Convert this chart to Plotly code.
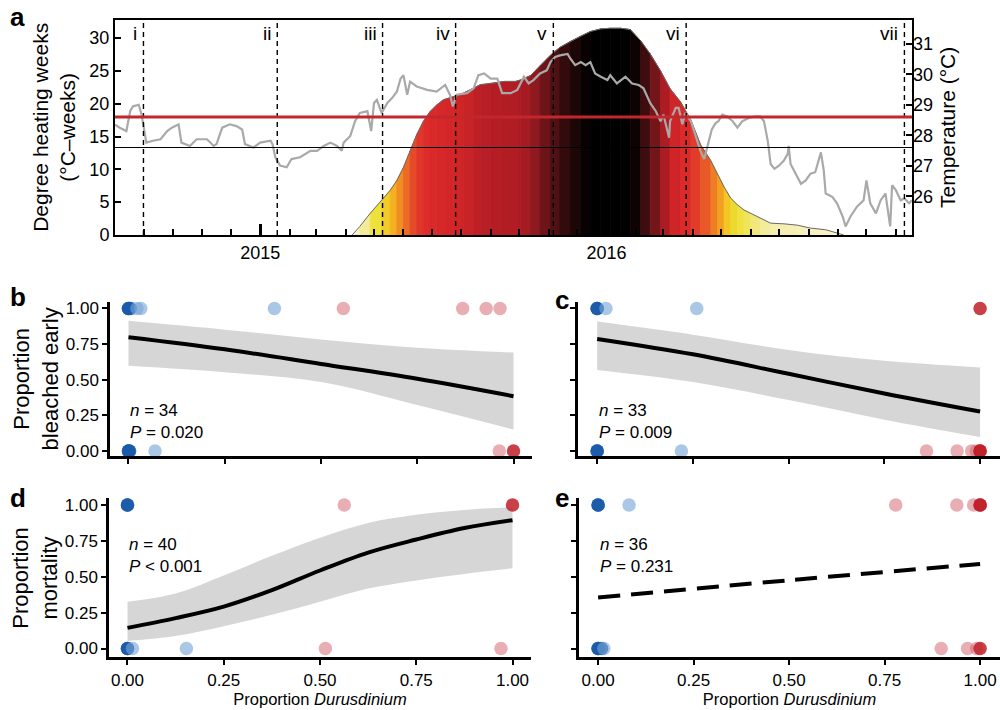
import pandas as pd
import plotly.graph_objects as go

FONT = "Liberation Sans, Arial, Helvetica, sans-serif"
BASE = pd.Timestamp("2015-01-01")

# ---------------- Panel a data (days since 2015-01-01) ----------------
temp_day = [-153, -148, -141, -137, -134, -128, -125, -121, -120, -113, -105, -98, -93, -86, -83,
            -74, -67, -56, -49, -46, -40, -32, -25, -19, -16, -7, 0, 11, 13, 16, 21, 28, 33, 42,
            53, 60, 67, 74, 81, 86, 88, 95, 100, 105, 113, 117, 120, 123, 128, 134, 139, 144, 148,
            151, 155, 158, 165, 176, 186, 195, 200, 203, 207, 218, 225, 230, 236, 243, 250, 255,
            264, 271, 278, 283, 288, 295, 302, 306, 311, 316, 324, 327, 332, 338, 343, 348, 353,
            359, 366, 369, 376, 385, 392, 399, 404, 411, 417, 422, 425, 431, 432, 438, 441, 445,
            448, 454, 459, 464, 468, 473, 476, 480, 483, 487, 492, 498, 503, 508, 515, 522, 527,
            531, 535, 538, 542, 547, 552, 556, 557, 559, 564, 570, 575, 580, 585, 591, 594, 596,
            603, 608, 614, 617, 622, 629, 636, 639, 643, 649, 654, 659, 664, 666, 670, 675, 679,
            684, 687]
temp_val = [28.35, 28.25, 28.14, 28.79, 28.95, 29.00, 28.68, 27.87, 27.76, 27.82, 27.87, 28.14,
            28.25, 28.36, 27.76, 27.65, 27.87, 27.87, 27.65, 27.71, 28.25, 28.36, 28.30, 28.19,
            27.71, 27.60, 27.76, 27.82, 27.71, 27.28, 27.01, 26.95, 27.22, 27.28, 27.49, 27.49,
            27.65, 27.76, 27.65, 27.49, 27.76, 27.98, 28.46, 28.73, 28.79, 28.14, 29.06, 29.16,
            28.73, 29.06, 29.22, 29.43, 29.86, 29.97, 29.33, 29.76, 29.60, 29.49, 29.43, 29.65,
            29.33, 28.95, 29.33, 29.38, 29.54, 29.97, 30.03, 29.86, 29.86, 29.38, 29.38, 29.49,
            29.92, 29.70, 29.81, 30.03, 30.13, 30.40, 30.57, 30.62, 30.67, 30.51, 30.30, 30.40,
            30.30, 30.40, 30.03, 29.92, 29.81, 29.97, 29.70, 29.92, 29.70, 29.65, 29.54, 29.06,
            28.79, 28.46, 28.68, 27.92, 28.46, 28.90, 28.90, 28.36, 28.73, 28.46, 27.98, 27.49,
            27.22, 27.81, 28.19, 28.40, 28.46, 28.68, 28.62, 28.46, 28.25, 28.46, 28.57, 28.62,
            28.62, 28.46, 27.81, 27.06, 26.90, 27.01, 27.17, 27.39, 27.65, 27.06, 26.74, 26.41,
            26.52, 26.74, 26.79, 27.44, 26.85, 26.09, 25.98, 25.77, 25.33, 25.01, 25.33, 25.66,
            25.87, 26.52, 25.77, 25.44, 25.87, 26.09, 25.01, 26.36, 26.20, 25.87, 25.93, 25.77,
            25.87]

dhw_day = [97, 105, 116, 128, 137, 144, 151, 158, 165, 172, 179, 186, 193, 204, 214, 225, 232,
           243, 257, 269, 274, 285, 295, 306, 316, 327, 338, 348, 359, 369, 380, 390, 401, 411,
           422, 432, 443, 454, 464, 475, 482, 489, 496, 503, 510, 517, 527, 538, 552, 566, 580,
           596, 608, 615]
dhw_val = [0.0, 1.3, 3.3, 5.3, 6.8, 8.3, 10.3, 12.8, 15.3, 17.3, 18.8, 19.8, 20.6, 21.1, 21.6,
           22.4, 22.9, 23.1, 23.4, 23.4, 23.6, 24.3, 25.8, 27.4, 28.6, 29.5, 30.3, 31.0, 31.4,
           31.5, 31.5, 31.3, 29.6, 27.6, 25.0, 22.3, 20.3, 17.5, 13.8, 11.3, 9.3, 7.3, 5.6, 4.6,
           3.8, 3.3, 2.6, 1.8, 1.7, 1.5, 1.05, 0.8, 0.3, 0.0]

sample_day = [-123, 18, 129, 206, 309, 449, 679]
sample_label = ["i", "ii", "iii", "iv", "v", "vi", "vii"]
mmm_temp = 27.6
bleach_temp = 28.6
x_start_day, x_end_day = -153, 687
year_ticks = ["2015-01-01", "2016-01-01"]
year_labels = ["2015", "2016"]

# ---------------- Panels b-e data ----------------
dur_ticks = [0, 0.25, 0.5, 0.75, 1.0]

b_x = [0, 0, 0.005, 0.022, 0.032, 0.379, 0.558, 0.868, 0.929, 0.965, 0, 0, 0.003, 0.069, 0.963, 1.0]
b_y = [1, 1, 1, 1, 1, 1, 1, 1, 1, 1, 0, 0, 0, 0, 0, 0]
b_g = ["C", "C", "C", "Cm", "Cm", "Cm", "Dm", "Dm", "Dm", "Dm", "C", "C", "C", "Cm", "Dm", "D"]
b_fit_x = [0, 0.25, 0.5, 0.75, 1.0]
b_fit = [0.798, 0.713, 0.61, 0.506, 0.384]
b_hi = [0.913, 0.851, 0.782, 0.724, 0.69]
b_lo = [0.598, 0.552, 0.483, 0.322, 0.15]

c_x = [0, 0, 0.023, 0.26, 1.0, 0, 0, 0.22, 0.86, 0.94, 0.978, 0.99, 1.0, 1.0]
c_y = [1, 1, 1, 1, 1, 0, 0, 0, 0, 0, 0, 0, 0, 0]
c_g = ["C", "C", "Cm", "Cm", "D", "C", "C", "Cm", "Dm", "Dm", "Dm", "Dm", "D", "D"]
c_fit_x = [0, 0.25, 0.5, 0.75, 1.0]
c_fit = [0.786, 0.678, 0.541, 0.403, 0.276]
c_hi = [0.908, 0.816, 0.708, 0.632, 0.586]
c_lo = [0.568, 0.483, 0.357, 0.219, 0.097]

d_x = [0, 0, 0.563, 1.0, 0, 0, 0.013, 0.153, 0.514, 0.97]
d_y = [1, 1, 1, 1, 0, 0, 0, 0, 0, 0]
d_g = ["C", "C", "Dm", "D", "C", "C", "Cm", "Cm", "Dm", "Dm"]
d_fit_x = [0, 0.125, 0.25, 0.375, 0.5, 0.625, 0.75, 0.875, 1.0]
d_fit = [0.144, 0.212, 0.292, 0.407, 0.544, 0.669, 0.76, 0.84, 0.895]
d_hi = [0.327, 0.384, 0.51, 0.646, 0.772, 0.875, 0.932, 0.966, 0.985]
d_lo = [0.053, 0.087, 0.155, 0.235, 0.327, 0.418, 0.475, 0.52, 0.56]

e_x = [0, 0, 0.081, 0.779, 0.939, 0.983, 1.0, 1.0, 0, 0, 0.009, 0.015, 0.898, 0.967, 0.991, 1.0]
e_y = [1, 1, 1, 1, 1, 1, 1, 1, 0, 0, 0, 0, 0, 0, 0, 0]
e_g = ["C", "C", "Cm", "Dm", "Dm", "Dm", "D", "D", "C", "C", "C", "Cm", "Dm", "Dm", "Dm", "D"]
e_fit_x = [0, 0.5, 1.0]
e_fit = [0.356, 0.476, 0.59]

stats = {"b": ("34", "= 0.020"), "c": ("33", "= 0.009"), "d": ("40", "< 0.001"), "e": ("36", "= 0.231")}

# ---------------- Styles ----------------
GROUP_COLORS = {
    "C": "rgba(25,90,170,0.88)",
    "Cm": "rgba(120,165,215,0.62)",
    "Dm": "rgba(210,100,110,0.52)",
    "D": "rgba(190,30,40,0.85)",
}
DHW_STOPS = [
    (0.0, "#fbf5d2"), (1.5, "#f7efb8"), (2.5, "#f3ea92"), (3.5, "#efe45c"), (4.5, "#ede034"),
    (5.5, "#efd62a"), (7.0, "#f5bc20"), (8.5, "#f39c22"), (10.5, "#ef7a24"), (12.5, "#e95a27"),
    (15.0, "#e2402a"), (18.0, "#de2c2a"), (21.0, "#d42628"), (22.3, "#c42226"), (23.5, "#b01c24"),
    (24.5, "#9a1a20"), (26.0, "#7a161a"), (27.5, "#5a1216"), (29.0, "#340b0c"), (30.3, "#120404"),
    (30.9, "#000000"),
]


def hex2rgb(h):
    return tuple(int(h[i:i + 2], 16) for i in (1, 3, 5))


def dhw_color(v):
    if v <= DHW_STOPS[0][0]:
        r, g, b = hex2rgb(DHW_STOPS[0][1])
        return f"rgb({r},{g},{b})"
    for (v0, c0), (v1, c1) in zip(DHW_STOPS, DHW_STOPS[1:]):
        if v <= v1:
            t = (v - v0) / (v1 - v0)
            a, b2 = hex2rgb(c0), hex2rgb(c1)
            r, g, b = [round(a[k] + (b2[k] - a[k]) * t) for k in range(3)]
            return f"rgb({r},{g},{b})"
    return "rgb(0,0,0)"


def to_dates(days):
    return [BASE + pd.Timedelta(days=int(d)) for d in days]


fig = go.Figure()

# ---------------- Panel a ----------------
dd = to_dates(dhw_day)
for i in range(len(dhw_day) - 1):
    col = dhw_color((dhw_val[i] + dhw_val[i + 1]) / 2)
    fig.add_trace(go.Scatter(
        x=[dd[i], dd[i], dd[i + 1], dd[i + 1], dd[i]],
        y=[0, dhw_val[i], dhw_val[i + 1], 0, 0],
        fill="toself", fillcolor=col, mode="lines", line=dict(color=col, width=0.8),
        hoverinfo="skip", showlegend=False, xaxis="x", yaxis="y"))
fig.add_trace(go.Scatter(x=dd, y=dhw_val, mode="lines", line=dict(color="#6a6a6a", width=1),
                         hoverinfo="skip", showlegend=False, xaxis="x", yaxis="y"))
fig.add_trace(go.Scatter(x=to_dates(temp_day), y=temp_val, mode="lines",
                         line=dict(color="#a9a9a9", width=2.2), showlegend=False,
                         xaxis="x", yaxis="y2"))

shapes = []
for d in sample_day:
    dt = BASE + pd.Timedelta(days=d)
    shapes.append(dict(type="line", xref="x", yref="y domain", x0=dt, x1=dt, y0=0, y1=1,
                       line=dict(color="black", width=1.4, dash="5px,4px")))
shapes.append(dict(type="line", xref="x domain", yref="y2", x0=0, x1=1, y0=bleach_temp,
                   y1=bleach_temp, line=dict(color="#c1272d", width=3.2)))
shapes.append(dict(type="line", xref="x domain", yref="y2", x0=0, x1=1, y0=mmm_temp,
                   y1=mmm_temp, line=dict(color="black", width=1.1)))

annotations = []
for d, lab in zip(sample_day, sample_label):
    annotations.append(dict(x=BASE + pd.Timedelta(days=d), y=30.75, xref="x", yref="y",
                            text=lab, showarrow=False, xanchor="right", yanchor="middle",
                            xshift=-4, font=dict(size=19, color="black", family=FONT)))

# ---------------- Panels b-e ----------------
panels = [
    ("b", "x2", "y3", b_x, b_y, b_g, b_fit_x, b_fit, b_hi, b_lo, "solid"),
    ("c", "x3", "y4", c_x, c_y, c_g, c_fit_x, c_fit, c_hi, c_lo, "solid"),
    ("d", "x4", "y5", d_x, d_y, d_g, d_fit_x, d_fit, d_hi, d_lo, "solid"),
    ("e", "x5", "y6", e_x, e_y, e_g, e_fit_x, e_fit, None, None, "22px,11px"),
]
for key, xa, ya, px, py, pg, fx, fy, fhi, flo, dash in panels:
    if fhi is not None:
        fig.add_trace(go.Scatter(x=fx, y=flo, mode="lines", line=dict(width=0, shape="spline"),
                                 hoverinfo="skip", showlegend=False, xaxis=xa, yaxis=ya))
        fig.add_trace(go.Scatter(x=fx, y=fhi, mode="lines", line=dict(width=0, shape="spline"),
                                 fill="tonexty", fillcolor="#d6d6d6", hoverinfo="skip",
                                 showlegend=False, xaxis=xa, yaxis=ya))
    fig.add_trace(go.Scatter(x=fx, y=fy, mode="lines",
                             line=dict(color="black", width=4, shape="spline", dash=dash),
                             showlegend=False, xaxis=xa, yaxis=ya))
    fig.add_trace(go.Scatter(x=px, y=py, mode="markers",
                             marker=dict(size=13.5, color=[GROUP_COLORS[g] for g in pg],
                                         line=dict(width=0)),
                             showlegend=False, xaxis=xa, yaxis=ya, cliponaxis=False))

# stats labels
stat_pos = {"b": ("x2", "y3", 0.31), "c": ("x3", "y4", 0.31), "d": ("x4", "y5", 0.75),
            "e": ("x5", "y6", 0.75)}
for k, (n, p) in stats.items():
    xa, ya, yv = stat_pos[k]
    annotations.append(dict(x=0.0, y=yv, xref=xa, yref=ya, xanchor="left", yanchor="top",
                            yshift=8, showarrow=False, align="left",
                            text=f"<i>n</i> = {n}<br><i>P</i> {p}",
                            font=dict(size=17, color="black", family=FONT)))

# panel letters
for lab, x, y in [("a", 17, 15), ("b", 18, 300), ("c", 562, 303), ("d", 18, 505), ("e", 562, 505)]:
    annotations.append(dict(x=x / 1000, y=1 - y / 710, xref="paper", yref="paper", text=f"<b>{lab}</b>",
                            showarrow=False, xanchor="center", yanchor="middle",
                            font=dict(size=26, color="black", family=FONT)))

axis_common = dict(showline=True, linecolor="black", linewidth=2.5, ticks="outside", ticklen=5,
                   tickwidth=2, tickcolor="black", showgrid=False, zeroline=False,
                   tickfont=dict(size=17, color="black", family=FONT))

xr1 = [-0.048, 1.048]
xr2 = [-0.05, 1.052]
yr_top = [-0.035, 1.046]
yr_bot = [-0.062, 1.046]
ytitle_font = dict(size=22, color="black", family=FONT)
xtitle_font = dict(size=16.5, color="black", family=FONT)

fig.update_layout(
    width=1000, height=710, margin=dict(l=0, r=0, t=0, b=0),
    paper_bgcolor="white", plot_bgcolor="white",
    font=dict(family=FONT, color="black"),
    shapes=shapes, annotations=annotations,
    xaxis=dict(domain=[0.115, 0.912], anchor="y", type="date",
               range=[BASE + pd.Timedelta(days=x_start_day), BASE + pd.Timedelta(days=x_end_day)],
               showline=True, mirror=True, linecolor="black", linewidth=2,
               tickmode="array", tickvals=year_ticks, ticktext=year_labels,
               ticks="inside", ticklen=11, tickwidth=3, tickcolor="black",
               minor=dict(ticks="inside", ticklen=6, tickwidth=2, tickcolor="black",
                          dtick="M1", tick0="2014-09-01"),
               showgrid=False, zeroline=False,
               tickfont=dict(size=18, color="black", family=FONT)),
    yaxis=dict(domain=[0.6662, 0.9746], anchor="x", range=[0, 32.8],
               tickvals=[0, 5, 10, 15, 20, 25, 30],
               showline=True, mirror=True, linecolor="black", linewidth=2,
               ticks="inside", ticklen=6, tickwidth=2, tickcolor="black",
               showgrid=False, zeroline=False,
               tickfont=dict(size=18, color="black", family=FONT),
               title=dict(text="Degree heating weeks<br>(°C–weeks)", standoff=8,
                          font=dict(size=21, color="black", family=FONT))),
    yaxis2=dict(overlaying="y", anchor="x", side="right", range=[24.73, 31.79],
                tickvals=[26, 27, 28, 29, 30, 31], showline=False,
                ticks="inside", ticklen=6, tickwidth=2, tickcolor="black",
                showgrid=False, zeroline=False,
                tickfont=dict(size=18, color="black", family=FONT),
                title=dict(text="Temperature (°C)", standoff=8,
                           font=dict(size=21, color="black", family=FONT))),
    xaxis2=dict(domain=[0.110, 0.532], anchor="y3", range=xr1, tickvals=dur_ticks,
                showticklabels=False, **axis_common),
    yaxis3=dict(domain=[0.3497, 0.5704], anchor="x2", range=yr_top, tickvals=dur_ticks,
                tickformat=".2f", title=dict(text="Proportion<br>bleached early", font=ytitle_font,
                                             standoff=2), **axis_common),
    xaxis3=dict(domain=[0.578, 1.0], anchor="y4", range=xr2, tickvals=dur_ticks,
                showticklabels=False, **axis_common),
    yaxis4=dict(domain=[0.3497, 0.5704], anchor="x3", range=yr_top, tickvals=dur_ticks,
                showticklabels=False, **axis_common),
    xaxis4=dict(domain=[0.109, 0.531], anchor="y5", range=xr1, tickvals=dur_ticks,
                tickformat=".2f",
                title=dict(text="Proportion <i>Durusdinium</i>", font=xtitle_font, standoff=4),
                **axis_common),
    yaxis5=dict(domain=[0.061, 0.2887], anchor="x4", range=yr_bot, tickvals=dur_ticks,
                tickformat=".2f", title=dict(text="Proportion<br>mortality", font=ytitle_font,
                                             standoff=2), **axis_common),
    xaxis5=dict(domain=[0.579, 1.0], anchor="y6", range=xr2, tickvals=dur_ticks,
                tickformat=".2f",
                title=dict(text="Proportion <i>Durusdinium</i>", font=xtitle_font, standoff=4),
                **axis_common),
    yaxis6=dict(domain=[0.061, 0.2887], anchor="x5", range=yr_bot, tickvals=dur_ticks,
                showticklabels=False, **axis_common),
)

fig.write_html("out.html")
